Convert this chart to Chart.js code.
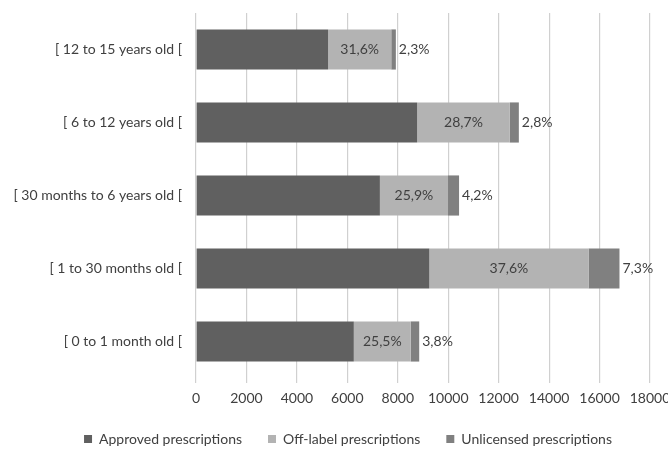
<!DOCTYPE html>
<html>
<head>
<meta charset="utf-8">
<script src="https://cdn.jsdelivr.net/npm/chart.js@4.4.1/dist/chart.umd.min.js"></script>
<style>
  html, body { margin: 0; padding: 0; background: #ffffff; }
  #wrap { width: 668px; height: 451px; }
</style>
</head>
<body>
<div id="wrap"><canvas id="c" width="668" height="451"></canvas></div>
<script>
const categories = ["[ 12 to 15 years old [", "[ 6 to 12 years old [", "[ 30 months to 6 years old [", "[ 1 to 30 months old [", "[ 0 to 1 month old ["];
const approved = [5238, 8768, 7291, 9251, 6257];
const offLabel = [2504, 3674, 2701, 6313, 2257];
const unlicensed = [182, 358, 438, 1226, 336];
const offLabelPct = ["31,6%", "28,7%", "25,9%", "37,6%", "25,5%"];
const unlicensedPct = ["2,3%", "2,8%", "4,2%", "7,3%", "3,8%"];
const seriesNames = ["Approved prescriptions", "Off-label prescriptions", "Unlicensed prescriptions"];
const xTicks = [0, 2000, 4000, 6000, 8000, 10000, 12000, 14000, 16000, 18000];

const FONT = "Lato, 'Open Sans', sans-serif";
const TEXT = "#404040";

const labelPlugin = {
  id: 'segLabels',
  afterDatasetsDraw(chart) {
    const ctx = chart.ctx;
    ctx.save();
    ctx.font = "14px " + FONT;
    ctx.fillStyle = TEXT;
    ctx.textBaseline = "middle";
    const offMeta = chart.getDatasetMeta(1);
    const unlMeta = chart.getDatasetMeta(2);
    offMeta.data.forEach((bar, i) => {
      ctx.textAlign = "center";
      ctx.fillText(offLabelPct[i], (bar.base + bar.x) / 2, bar.y);
    });
    unlMeta.data.forEach((bar, i) => {
      ctx.textAlign = "left";
      ctx.fillText(unlicensedPct[i], bar.x + 3, bar.y);
    });
    ctx.restore();
  }
};

new Chart(document.getElementById('c'), {
  type: 'bar',
  data: {
    labels: categories,
    datasets: [
      { label: seriesNames[0], data: approved, backgroundColor: '#606060' },
      { label: seriesNames[1], data: offLabel, backgroundColor: '#b3b3b3' },
      { label: seriesNames[2], data: unlicensed, backgroundColor: '#808080' }
    ]
  },
  options: {
    indexAxis: 'y',
    responsive: false,
    animation: false,
    devicePixelRatio: 1,
    barPercentage: 0.55,
    categoryPercentage: 1,
    layout: { padding: { top: 13, right: 18, left: 46, bottom: -5 } },
    scales: {
      x: {
        stacked: true,
        min: 0, max: 18000,
        afterBuildTicks(scale) { scale.ticks = xTicks.map(v => ({ value: v })); },
        afterFit(scale) { scale.height = 28; scale.paddingLeft = 0; scale.paddingRight = 0; },
        ticks: { color: TEXT, font: { family: FONT, size: 14 }, padding: 7, maxRotation: 0, autoSkip: false, callback: (v) => String(v) },
        grid: { color: '#d0d0d0', lineWidth: 1.2, drawTicks: true, tickLength: 5 },
        border: { display: false }
      },
      y: {
        stacked: true,
        afterFit(scale) {
          scale.width = 150; scale.paddingTop = 0; scale.paddingBottom = 0;
          scale._computeLabelArea = () => undefined;
        },
        ticks: { color: TEXT, font: { family: FONT, size: 14 }, padding: 14 },
        grid: { display: false, drawTicks: false },
        border: { display: false }
      }
    },
    plugins: {
      legend: {
        position: 'bottom',
        labels: {
          color: TEXT,
          font: { family: FONT, size: 14 },
          boxWidth: 8, boxHeight: 8,
          padding: 26
        }
      },
      tooltip: { enabled: false }
    }
  },
  plugins: [labelPlugin]
});
</script>
</body>
</html>
